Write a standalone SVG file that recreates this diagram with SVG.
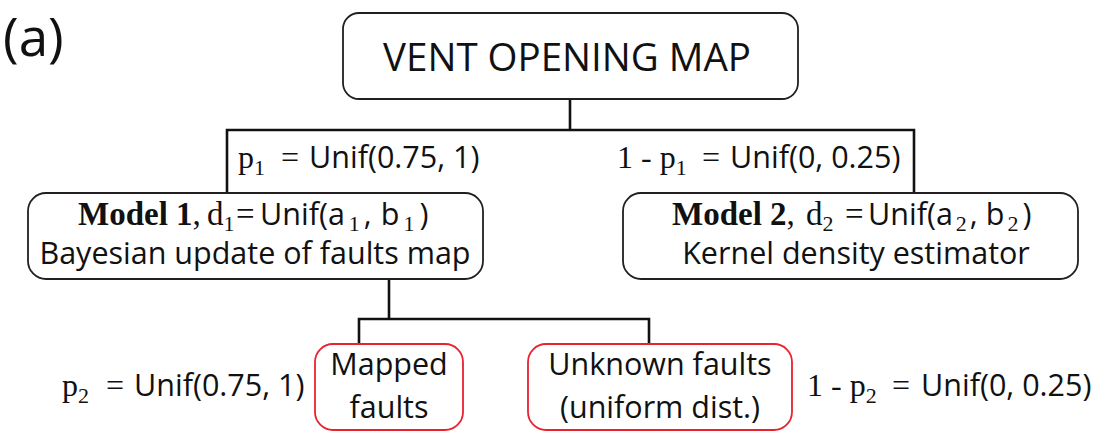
<svg xmlns="http://www.w3.org/2000/svg" width="1096" height="431" viewBox="0 0 1096 431">
<style>
.box{fill:#fff;stroke:#231f20;stroke-width:1.8}
.red{fill:#fff;stroke:#e8222e;stroke-width:1.8}
.conn{fill:none;stroke:#111;stroke-width:2.6}
.sans{font-family:"Open Sans","Liberation Sans",sans-serif;font-size:30.5px;fill:#111}
.ser{font-family:"Liberation Serif","DejaVu Serif",serif}
.b{font-weight:bold}
</style>
<rect width="1096" height="431" fill="#fff"/>
<text class="sans" x="3" y="56" style="font-size:53px">(a)</text>
<g id="connectors">
<path class="conn" d="M570,99 V130"/>
<path class="conn" d="M227,193 V130 H914 V193"/>
<path class="conn" d="M389,279 V319"/>
<path class="conn" d="M359,344 V319 H649 V344"/>
</g>
<g id="vent">
<rect class="box" x="343" y="13" width="455" height="86" rx="16"/>
<text class="sans" x="567" y="71" text-anchor="middle" style="font-size:38.5px">VENT OPENING MAP</text>
</g>
<g id="label-p1">
<text class="sans" y="168"><tspan class="ser" x="238" font-size="32">p</tspan><tspan class="ser" font-size="22" dy="7">1</tspan><tspan class="ser" x="281" dy="-7" font-size="32">=</tspan><tspan x="309">Unif(0.75, 1)</tspan></text>
</g>
<g id="label-1-p1">
<text class="sans" y="168"><tspan class="ser" x="617" font-size="32">1 - p</tspan><tspan class="ser" font-size="22" dy="7">1</tspan><tspan class="ser" x="702" dy="-7" font-size="32">=</tspan><tspan x="730">Unif(0, 0.25)</tspan></text>
</g>
<g id="model1">
<rect class="box" x="28" y="193" width="455" height="86" rx="18"/>
<text class="sans" y="225"><tspan class="ser b" x="78" font-size="33">Model 1</tspan><tspan class="ser" font-size="33">,</tspan><tspan class="ser" x="207" font-size="33">d</tspan><tspan class="ser" font-size="22" dy="6">1</tspan><tspan class="ser" x="236" dy="-6" font-size="33">=</tspan><tspan x="260">Unif(a</tspan><tspan class="ser" font-size="22" dx="4" dy="6">1</tspan><tspan dx="4" dy="-6">,</tspan><tspan dx="9">b</tspan><tspan class="ser" font-size="22" dx="4" dy="6">1</tspan><tspan dx="5" dy="-6">)</tspan></text>
<text class="sans" x="255" y="264" text-anchor="middle">Bayesian update of faults map</text>
</g>
<g id="model2">
<rect class="box" x="623" y="193" width="455" height="86" rx="18"/>
<text class="sans" y="225"><tspan class="ser b" x="672" font-size="33">Model 2</tspan><tspan class="ser" font-size="33">,</tspan><tspan class="ser" x="806" font-size="33">d</tspan><tspan class="ser" font-size="22" dy="6">2</tspan><tspan class="ser" x="845" dy="-6" font-size="33">=</tspan><tspan x="868">Unif(a</tspan><tspan class="ser" font-size="22" dx="3" dy="6">2</tspan><tspan dx="3" dy="-6">,</tspan><tspan dx="8">b</tspan><tspan class="ser" font-size="22" dx="3" dy="6">2</tspan><tspan dx="4" dy="-6">)</tspan></text>
<text class="sans" x="856" y="264" text-anchor="middle">Kernel density estimator</text>
</g>
<g id="mapped">
<rect class="red" x="315" y="344" width="148" height="86" rx="18"/>
<text class="sans" x="389" y="375" text-anchor="middle">Mapped</text>
<text class="sans" x="389" y="418" text-anchor="middle">faults</text>
</g>
<g id="unknown">
<rect class="red" x="528" y="344" width="264" height="86" rx="18"/>
<text class="sans" x="660" y="375" text-anchor="middle">Unknown faults</text>
<text class="sans" x="660" y="418" text-anchor="middle">(uniform dist.)</text>
</g>
<g id="label-p2">
<text class="sans" y="396"><tspan class="ser" x="62" font-size="32">p</tspan><tspan class="ser" font-size="22" dy="7">2</tspan><tspan class="ser" x="106" dy="-7" font-size="32">=</tspan><tspan x="134">Unif(0.75, 1)</tspan></text>
</g>
<g id="label-1-p2">
<text class="sans" y="396"><tspan class="ser" x="807" font-size="32">1 - p</tspan><tspan class="ser" font-size="22" dy="7">2</tspan><tspan class="ser" x="892" dy="-7" font-size="32">=</tspan><tspan x="921">Unif(0, 0.25)</tspan></text>
</g>
</svg>
